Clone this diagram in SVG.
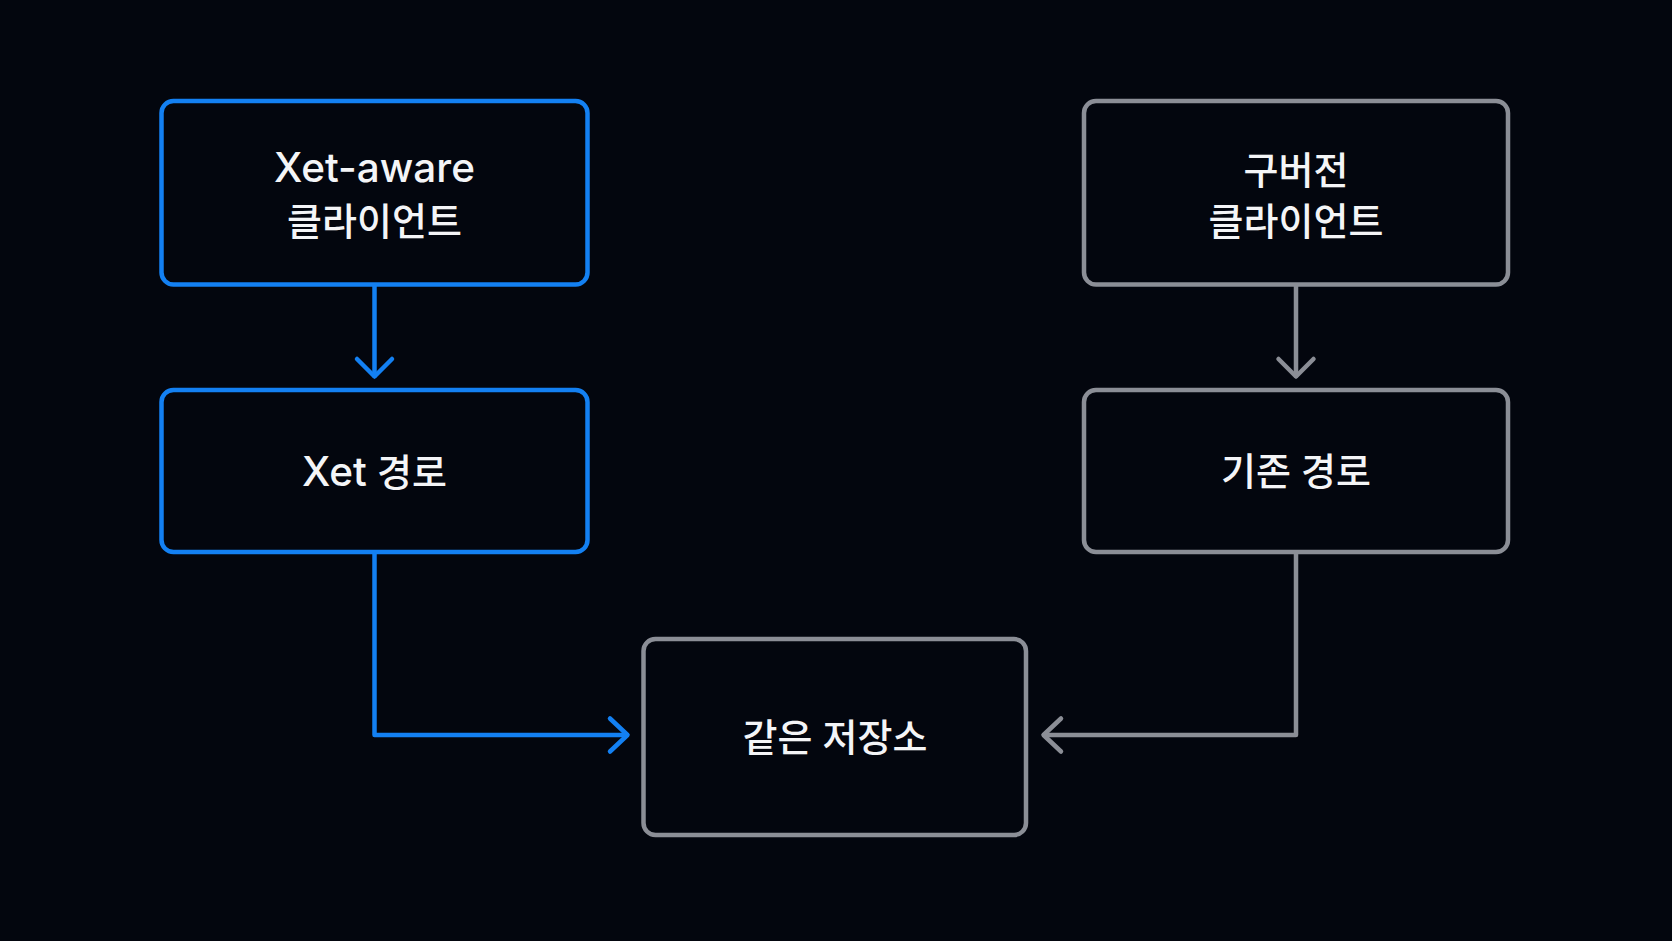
<svg xmlns="http://www.w3.org/2000/svg" width="1672" height="941" viewBox="0 0 1672 941">
  <defs>
    <style>
      .bg { fill: #03060e; }
      .box { fill: #03060e; stroke-width: 4.5; }
      .blue { stroke: #1380f2; }
      .gray { stroke: #8b8e96; }
      .lbl { font-family: "Inter", "Noto Sans CJK KR", sans-serif; font-size: 38px; font-weight: 500; fill: #f4f5f7; text-anchor: middle; }
      .lat { font-size: 40.5px; }
      .conn { fill: none; stroke-width: 4.5; stroke-linecap: round; stroke-linejoin: round; }
    </style>
  </defs>
  <rect class="bg" x="0" y="0" width="1672" height="941"/>

  <g id="node-xet-client">
    <rect class="box blue" x="161.5" y="101" width="426" height="183.5" rx="12"/>
    <text class="lbl lat" x="374.5" y="182">Xet-aware</text>
    <text class="lbl" x="374.5" y="235">클라이언트</text>
  </g>

  <g id="node-xet-path">
    <rect class="box blue" x="161.5" y="390" width="426" height="162" rx="12"/>
    <text class="lbl" x="374.5" y="486"><tspan class="lat">Xet</tspan> 경로</text>
  </g>

  <g id="node-legacy-client">
    <rect class="box gray" x="1084" y="101" width="424" height="183.5" rx="12"/>
    <text class="lbl" x="1296" y="184">구버전</text>
    <text class="lbl" x="1296" y="235">클라이언트</text>
  </g>

  <g id="node-legacy-path">
    <rect class="box gray" x="1084" y="390" width="424" height="162" rx="12"/>
    <text class="lbl" x="1296" y="485">기존 경로</text>
  </g>

  <g id="node-storage">
    <rect class="box gray" x="643.5" y="639" width="382.5" height="196" rx="12"/>
    <text class="lbl" x="835" y="751">같은 저장소</text>
  </g>

  <g id="connectors">
    <path class="conn blue" d="M374.5 286.5 V376"/>
    <path class="conn blue" d="M357 359 L374.5 376.5 L392 359"/>
    <path class="conn gray" d="M1296 286.5 V376"/>
    <path class="conn gray" d="M1278.5 359 L1296 376.5 L1313.5 359"/>
    <path class="conn blue" d="M374.5 554 V735 H627"/>
    <path class="conn blue" d="M610 718.5 L627.5 735 L610 751.5"/>
    <path class="conn gray" d="M1296 554 V735 H1044"/>
    <path class="conn gray" d="M1061 718.5 L1043.5 735 L1061 751.5"/>
  </g>
</svg>
